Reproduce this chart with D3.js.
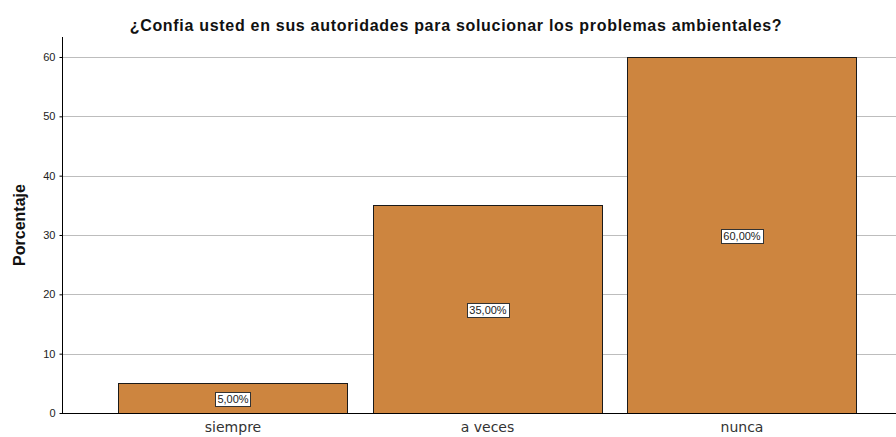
<!DOCTYPE html>
<html lang="es">
<head>
<meta charset="UTF-8">
<script src="https://cdn.jsdelivr.net/npm/d3@7"></script>
<style>
  body { margin: 0; background: #fff; }
  text { font-family: "Liberation Sans", Arial, sans-serif; }
</style>
</head>
<body>
<script>
// datos
var categorias = ['siempre', 'a veces', 'nunca'];
var porcentajes = [5, 35, 60];
var etiquetas = ['5,00%', '35,00%', '60,00%'];
var yTicks = [0, 10, 20, 30, 40, 50, 60];

var width = 896, height = 437;
var mLeft = 62, mTop = 37, mBottom = 413;

var svg = d3.select('body').append('svg')
  .attr('width', width)
  .attr('height', height);

var x = d3.scaleBand()
  .domain(categorias)
  .range([mLeft + 1, 912])
  .paddingInner(0.1)
  .paddingOuter(0.218);

var y = d3.scaleLinear()
  .domain([0, 63.37])
  .range([mBottom, mTop]);

// lineas de cuadricula
svg.append('g').selectAll('line')
  .data(yTicks.slice(1))
  .enter().append('line')
  .attr('x1', mLeft).attr('x2', width)
  .attr('y1', function(d) { return Math.round(y(d)) + 0.5; })
  .attr('y2', function(d) { return Math.round(y(d)) + 0.5; })
  .attr('stroke', '#bdbdbd')
  .attr('stroke-width', 1);

// barras
svg.append('g').selectAll('rect')
  .data(porcentajes)
  .enter().append('rect')
  .attr('x', function(d, i) { return Math.round(x(categorias[i])) + 0.5; })
  .attr('y', function(d) { return Math.round(y(d)) + 0.5; })
  .attr('width', Math.round(x.bandwidth()))
  .attr('height', function(d) { return mBottom - Math.round(y(d)); })
  .attr('fill', '#cd853f')
  .attr('stroke', '#1a1a1a')
  .attr('stroke-width', 1);

// etiquetas de las barras
var lab = svg.append('g').selectAll('g')
  .data(porcentajes)
  .enter().append('g')
  .attr('transform', function(d, i) {
    return 'translate(' + Math.round(x(categorias[i]) + x.bandwidth() / 2) + ',' + Math.round((y(d) + mBottom) / 2 + 1) + ')';
  });
lab.append('text')
  .attr('text-anchor', 'middle')
  .attr('dy', '0.35em')
  .attr('font-size', 11)
  .attr('fill', '#222')
  .text(function(d, i) { return etiquetas[i]; });
lab.each(function() {
  var g = d3.select(this);
  var b = g.select('text').node().getBBox();
  g.insert('rect', 'text')
    .attr('x', Math.round(b.x - 2) + 0.5)
    .attr('y', Math.round(b.y - 0.5) + 0.5)
    .attr('width', Math.round(b.width + 4))
    .attr('height', Math.round(b.height + 2))
    .attr('fill', '#fff')
    .attr('stroke', '#333');
});

// eje y
var yAxis = d3.axisLeft(y).tickValues(yTicks).tickSize(3).tickPadding(4);
var gy = svg.append('g')
  .attr('transform', 'translate(' + (mLeft + 0.5) + ',0)')
  .call(yAxis);
gy.select('.domain').attr('d', 'M0,' + mTop + 'V' + (mBottom + 0.5)).attr('stroke', '#000');
gy.selectAll('.tick line').attr('stroke', '#000');
gy.selectAll('text').attr('font-size', 11).attr('fill', '#222')
  .style('font-family', '"Liberation Sans", Arial, sans-serif');

// eje x
var xAxis = d3.axisBottom(x).tickSize(0).tickPadding(9);
var gx = svg.append('g')
  .attr('transform', 'translate(0,' + (mBottom + 0.5) + ')')
  .call(xAxis);
gx.select('.domain').attr('d', 'M' + mLeft + ',0H' + width).attr('stroke', '#000');
gx.selectAll('text').attr('font-size', 14).attr('fill', '#333')
  .style('font-family', '"DejaVu Sans", sans-serif');

// titulos
svg.append('text')
  .attr('x', 456).attr('y', 31)
  .attr('text-anchor', 'middle')
  .attr('font-size', 16)
  .attr('font-weight', 'bold')
  .attr('letter-spacing', 0.7)
  .attr('fill', '#111')
  .text('¿Confia usted en sus autoridades para solucionar los problemas ambientales?');

svg.append('text')
  .attr('transform', 'translate(25,225) rotate(-90)')
  .attr('text-anchor', 'middle')
  .attr('font-size', 16)
  .attr('font-weight', 'bold')
  .attr('fill', '#111')
  .text('Porcentaje');
</script>
</body>
</html>
